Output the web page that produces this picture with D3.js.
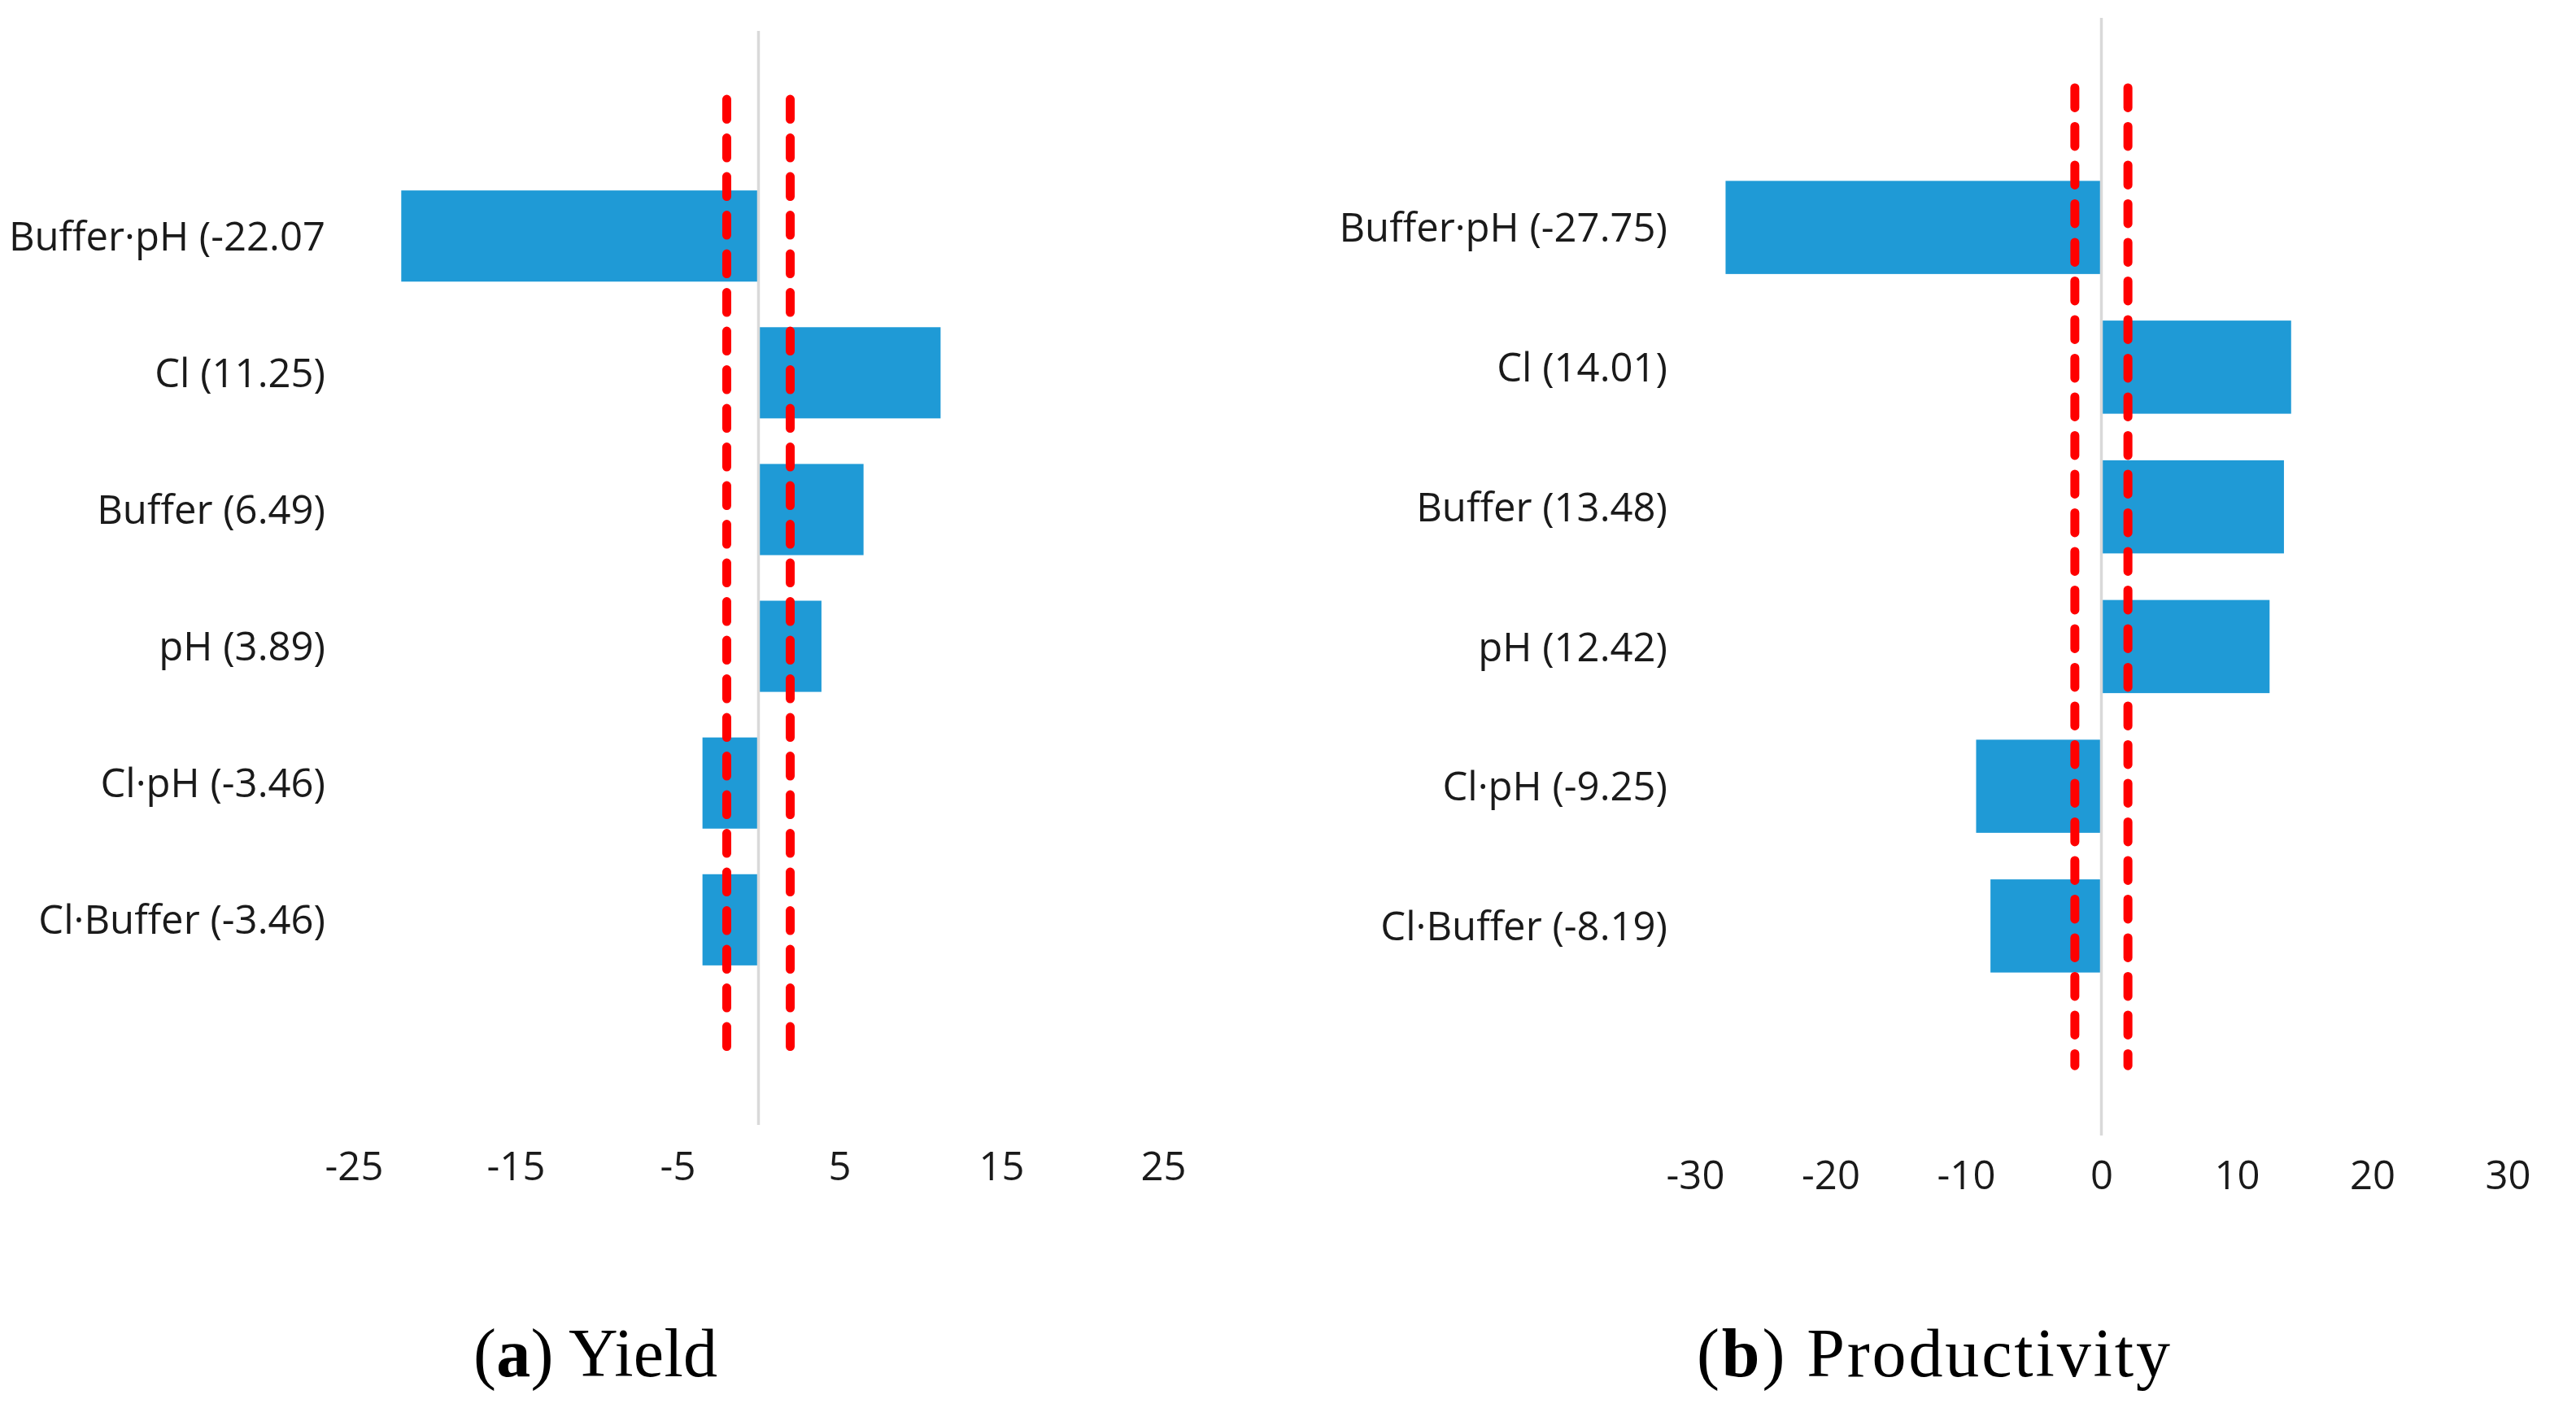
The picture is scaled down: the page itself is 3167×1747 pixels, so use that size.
<!DOCTYPE html>
<html>
<head>
<meta charset="utf-8">
<script src="https://cdn.jsdelivr.net/npm/d3@7"></script>
<style>
  html, body { margin: 0; padding: 0; background: #fff; }
  svg { display: block; }
</style>
</head>
<body>
<div class="chart-div"></div>
<script>
'use strict';

// (a) Yield
var yieldTerms = ["Buffer·pH (-22.07", "Cl (11.25)", "Buffer (6.49)", "pH (3.89)", "Cl·pH (-3.46)", "Cl·Buffer (-3.46)"];
var yieldEffects = [-22.07, 11.25, 6.49, 3.89, -3.46, -3.46];
var yieldTicks = [-25, -15, -5, 5, 15, 25];

// (b) Productivity
var prodTerms = ["Buffer·pH (-27.75)", "Cl (14.01)", "Buffer (13.48)", "pH (12.42)", "Cl·pH (-9.25)", "Cl·Buffer (-8.19)"];
var prodEffects = [-27.75, 14.01, 13.48, 12.42, -9.25, -8.19];
var prodTicks = [-30, -20, -10, 0, 10, 20, 30];

var critValue = 1.96; // significance limits (dashed lines)

var width = 3167;
var height = 1747;

var svg = d3.select(".chart-div").append("svg")
    .attr("width", width)
    .attr("height", height);

svg.append("rect").attr("width", width).attr("height", height).attr("fill", "#fff");

var panels = [
    {terms: yieldTerms, values: yieldEffects, ticks: yieldTicks,
     letter: "a", name: "Yield",
     xRange: [435, 1430], yRange: [38, 1383], labelX: 400, tickY: 1451, capX: 732, capLen: 300},
    {terms: prodTerms, values: prodEffects, ticks: prodTicks,
     letter: "b", name: "Productivity",
     xRange: [2084, 3083], yRange: [22, 1396], labelX: 2050, tickY: 1462, capX: 2377, capLen: 582}
];

panels.forEach(drawPanel);

function drawPanel(p) {
    var data = p.terms.map((t, i) => ({term: t, value: p.values[i]}));
    var ext = d3.extent(p.ticks);

    var x = d3.scaleLinear().domain(ext).range(p.xRange);

    // Excel style: empty slot above and below the categories, gap width 50%
    var y = d3.scaleBand()
        .domain(p.terms)
        .range(p.yRange)
        .paddingInner(1 / 3)
        .paddingOuter(1 + 1 / 6);

    var yIdx = d3.scaleLinear()
        .domain([-1.5, p.terms.length + 0.5])
        .range(p.yRange);

    var g = svg.append("g");

    // bars
    g.selectAll("rect.bar")
        .data(data)
        .enter().append("rect")
        .attr("class", "bar")
        .attr("x", d => x(Math.min(0, d.value)))
        .attr("y", d => y(d.term))
        .attr("width", d => Math.abs(x(d.value) - x(0)))
        .attr("height", y.bandwidth())
        .attr("fill", "#1f9ad6");

    // zero axis line
    g.append("line")
        .attr("x1", x(0)).attr("x2", x(0))
        .attr("y1", p.yRange[0]).attr("y2", p.yRange[1])
        .attr("stroke", "#d9d9d9")
        .attr("stroke-width", 3.5);

    // significance limits
    g.selectAll("line.crit")
        .data([-critValue, critValue])
        .enter().append("line")
        .attr("class", "crit")
        .attr("x1", d => x(d)).attr("x2", d => x(d))
        .attr("y1", yIdx(-1)).attr("y2", yIdx(p.terms.length))
        .attr("stroke", "#ff0000")
        .attr("stroke-width", 11)
        .attr("stroke-linecap", "round")
        .attr("stroke-dasharray", "24.5 23");

    // category labels
    var yAxis = g.append("g")
        .attr("transform", "translate(" + p.labelX + ",0)")
        .call(d3.axisLeft(y).tickSize(0).tickPadding(0));
    yAxis.select(".domain").remove();
    yAxis.selectAll("text")
        .attr("dy", "0.36em")
        .attr("fill", "#1a1a1a")
        .style("font-family", "'Open Sans', sans-serif")
        .style("font-size", "49px");

    // value axis labels
    var xAxis = g.append("g")
        .attr("transform", "translate(0," + p.tickY + ")")
        .call(d3.axisBottom(x).tickValues(p.ticks).tickSize(0).tickPadding(0).tickFormat(d => String(d)));
    xAxis.select(".domain").remove();
    xAxis.selectAll("text")
        .attr("y", 0)
        .attr("dy", null)
        .attr("fill", "#1a1a1a")
        .style("font-family", "'Open Sans', sans-serif")
        .style("font-size", "49px");

    // caption
    var cap = svg.append("text")
        .attr("x", p.capX)
        .attr("y", 1692)
        .attr("text-anchor", "middle")
        .attr("textLength", p.capLen)
        .attr("lengthAdjust", "spacing")
        .attr("fill", "#000")
        .style("font-family", "'Liberation Serif', 'Times New Roman', serif")
        .style("font-size", "84px");
    cap.append("tspan").text("(");
    cap.append("tspan").attr("font-weight", "bold").text(p.letter);
    cap.append("tspan").text(") " + p.name);
}
</script>
</body>
</html>
